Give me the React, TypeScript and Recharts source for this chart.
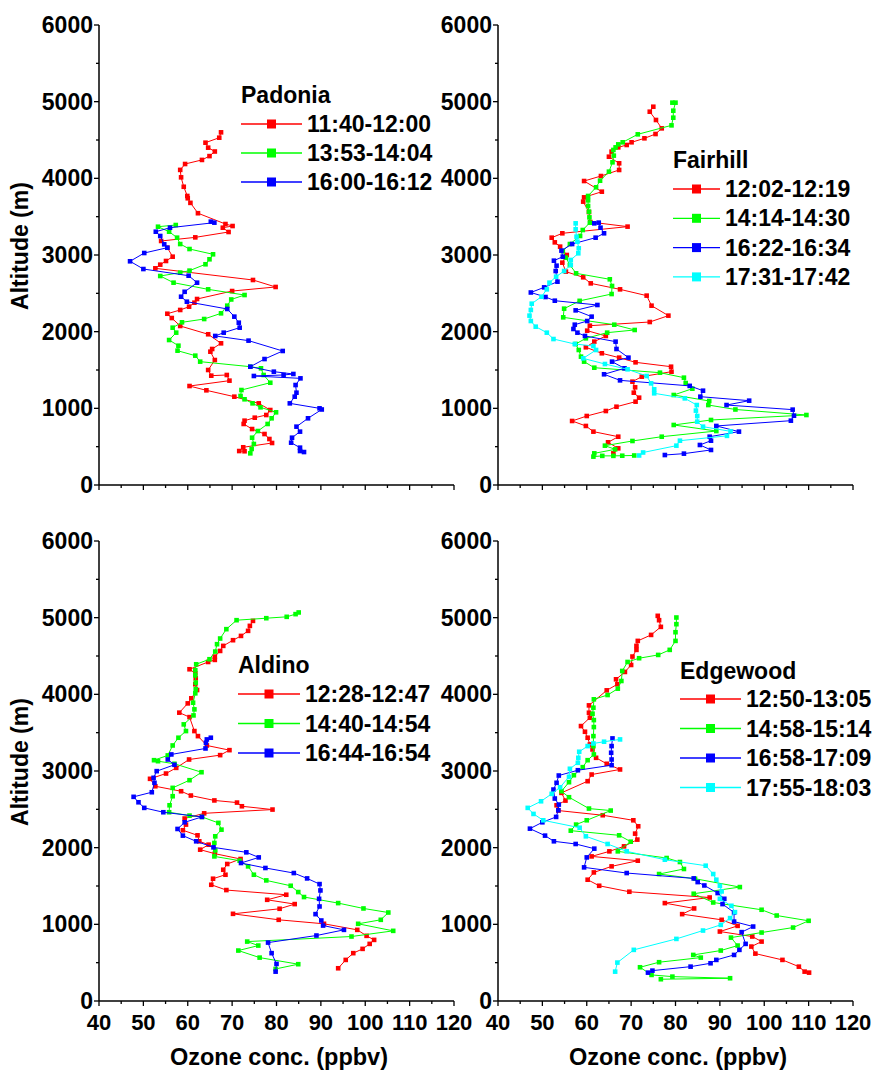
import React from 'react';
import { ScatterChart, Scatter, XAxis, YAxis, Legend } from 'recharts';

const FONT = '"Liberation Sans", Arial, Helvetica, sans-serif';

const xTicks = [40, 45, 50, 55, 60, 65, 70, 75, 80, 85, 90, 95, 100, 105, 110, 115, 120];
const yTicks = [0, 500, 1000, 1500, 2000, 2500, 3000, 3500, 4000, 4500, 5000, 5500, 6000];

const RED = '#ff0000';
const GREEN = '#00ff00';
const BLUE = '#0000ff';
const CYAN = '#00ffff';

// [ozone ppbv, altitude m]
const padRed = [[67.5,4600],[67.1,4530],[64.0,4465],[64.6,4400],[66.1,4350],[64.9,4290],[63.2,4240],[59.4,4187],[58.3,4110],[58.5,4013],[59.1,3890],[59.9,3770],[60.0,3740],[60.6,3680],[62.3,3545],[68.5,3404],[70.1,3378],[67.9,3356],[69.2,3300],[61.7,3230],[54.0,3183],[55.4,3095],[56.6,2978],[55.1,2922],[53.8,2874],[52.7,2826],[74.7,2674],[79.8,2583],[70.0,2530],[62.1,2426],[61.5,2378],[60.3,2326],[58.3,2283],[55.4,2234],[56.4,2178],[58.3,2074],[64.6,1966],[67.5,1848],[65.5,1774],[65.1,1739],[66.1,1630],[64.6,1500],[65.3,1426],[68.8,1435],[69.4,1361],[60.4,1291],[64.2,1235],[70.5,1152],[76.0,1065],[78.6,978],[77.7,913],[75.1,878],[72.8,839],[72.6,796],[74.5,730],[77.3,665],[78.4,600],[79.0,548],[72.5,492],[71.6,443],[72.8,440]];
const padGreen = [[57.3,3391],[53.3,3369],[55.8,3304],[57.6,3226],[58.3,3143],[60.4,3078],[65.7,3009],[64.9,2944],[64.0,2879],[60.4,2796],[58.3,2770],[53.8,2726],[56.8,2639],[64.6,2552],[72.8,2478],[69.8,2420],[68.9,2339],[67.5,2239],[63.7,2165],[58.7,2122],[56.6,2052],[57.4,1987],[55.8,1891],[57.9,1817],[57.7,1752],[61.7,1687],[62.8,1609],[74.1,1543],[76.5,1522],[77.1,1435],[78.6,1334],[72.1,1239],[71.9,1161],[72.8,1118],[74.6,1065],[76.4,1013],[79.9,948],[78.9,870],[78.0,796],[75.8,704],[74.5,617],[74.9,535],[74.4,470],[74.1,413]];
const padBlue = [[65.2,3435],[66.0,3422],[56.0,3356],[52.8,3304],[53.8,3248],[54.7,3139],[55.4,3095],[50.2,3026],[47.0,2918],[50.0,2817],[60.2,2730],[62.1,2639],[59.3,2520],[58.5,2456],[59.8,2391],[68.9,2296],[70.5,2196],[71.5,2117],[71.7,2052],[68.1,1987],[66.2,1944],[73.7,1883],[81.4,1748],[77.3,1643],[74.1,1543],[79.4,1478],[83.8,1448],[81.6,1435],[74.9,1422],[85.4,1391],[84.3,1304],[84.5,1204],[84.1,1152],[83.0,1065],[89.7,1000],[90.2,985],[87.1,870],[84.5,761],[85.3,696],[83.5,617],[83.3,552],[85.3,487],[85.3,443],[86.2,430]];

const fhRed = [[75.0,4934],[74.2,4869],[75.6,4761],[76.9,4652],[75.5,4578],[73.0,4522],[70.1,4470],[69.0,4435],[67.1,4404],[65.6,4348],[65.0,4282],[67.3,4196],[67.3,4109],[63.2,4030],[59.4,3965],[63.4,3826],[59.4,3752],[59.2,3696],[60.5,3560],[60.8,3430],[69.2,3370],[54.5,3283],[52.1,3226],[52.8,3165],[54.0,3109],[55.5,3000],[54.5,2900],[55.3,2783],[59.2,2709],[60.9,2630],[67.5,2552],[73.5,2470],[74.6,2339],[78.4,2209],[74.2,2126],[60.7,2078],[60.1,2013],[64.3,1944],[61.7,1870],[59.8,1796],[63.4,1718],[67.3,1661],[71.0,1600],[79.0,1543],[79.1,1478],[72.4,1413],[70.3,1348],[70.9,1274],[70.6,1204],[71.8,1139],[71.0,1087],[66.7,1021],[64.3,965],[60.0,900],[56.7,835],[59.8,770],[61.5,696],[67.1,630],[64.8,557],[67.1,478],[66.0,413]];
const fhGreen = [[79.3,4987],[80.0,4987],[79.5,4882],[79.5,4791],[79.1,4691],[71.5,4574],[68.1,4470],[67.1,4443],[66.5,4404],[66.0,4370],[66.1,4296],[65.8,4209],[65.0,4087],[63.0,3969],[62.1,3883],[60.3,3770],[60.3,3713],[60.3,3639],[60.5,3565],[60.6,3491],[60.7,3422],[59.1,3326],[58.5,3248],[56.2,3143],[54.6,3052],[55.3,2965],[56.2,2870],[57.6,2761],[65.2,2683],[65.7,2596],[65.6,2491],[58.4,2402],[54.9,2300],[54.7,2187],[66.2,2091],[70.8,2022],[64.6,1987],[59.8,1913],[57.5,1839],[58.2,1761],[58.7,1674],[59.4,1609],[61.7,1530],[76.5,1465],[81.9,1400],[82.3,1330],[83.8,1256],[79.6,1174],[87.6,1096],[87.4,1043],[93.5,985],[109.5,913],[88.0,848],[79.6,783],[89.2,704],[76.9,630],[70.3,574],[64.1,513],[66.4,465],[61.7,413],[61.5,370],[63.5,380],[66.0,380],[68.0,382],[70.7,385]];
const fhBlue = [[61.7,3413],[62.7,3422],[63.1,3356],[63.9,3283],[62.0,3226],[56.7,3143],[54.3,3057],[54.6,2978],[52.6,2926],[53.2,2861],[53.0,2791],[53.4,2652],[50.4,2578],[47.4,2511],[50.7,2452],[52.8,2404],[62.4,2348],[57.5,2278],[61.1,2196],[60.1,2139],[57.3,2091],[57.0,2035],[57.9,1987],[59.6,1944],[66.5,1870],[66.7,1774],[69.4,1661],[65.7,1609],[68.5,1522],[63.9,1444],[67.5,1365],[83.2,1293],[86.2,1230],[85.6,1152],[96.6,1100],[91.5,1043],[106.4,983],[106.7,904],[106.0,839],[89.2,770],[94.3,696],[87.7,630],[88.0,578],[85.5,522],[88.0,457],[81.9,409],[77.6,391]];
const fhCyan = [[57.5,3413],[57.5,3335],[57.7,3239],[57.9,3174],[58.2,3087],[58.1,3022],[56.4,2935],[56.4,2870],[54.9,2791],[53.1,2717],[51.6,2639],[51.0,2552],[49.8,2456],[47.6,2365],[47.4,2283],[47.1,2209],[47.4,2139],[48.5,2065],[51.0,1987],[52.5,1904],[57.3,1839],[61.5,1813],[62.1,1761],[59.2,1652],[64.1,1578],[69.2,1509],[73.5,1422],[74.5,1326],[75.2,1248],[75.2,1196],[82.1,1130],[84.8,1043],[84.6,970],[84.9,900],[84.9,826],[86.2,761],[92.4,700],[91.6,641],[81.0,578],[80.2,513],[72.7,424],[71.8,385]];

const alRed = [[74.7,4958],[74.0,4893],[73.6,4828],[72.0,4762],[70.2,4706],[68.0,4632],[67.3,4566],[66.1,4492],[66.1,4449],[64.6,4422],[60.4,4327],[61.7,4275],[61.8,4209],[61.7,4131],[62.1,4056],[60.8,3948],[60.0,3882],[58.1,3761],[60.4,3703],[61.5,3521],[62.3,3455],[64.3,3333],[69.4,3272],[67.3,3207],[60.3,3150],[57.4,3041],[55.1,2967],[51.5,2898],[52.7,2801],[58.5,2736],[60.7,2680],[66.0,2616],[71.1,2588],[72.2,2540],[79.1,2497],[63.7,2448],[59.3,2380],[59.6,2301],[58.9,2227],[62.2,2161],[62.6,2083],[64.7,2039],[62.8,1974],[66.1,1922],[71.9,1852],[68.9,1787],[68.0,1712],[68.5,1647],[65.7,1595],[65.3,1516],[68.7,1447],[82.2,1386],[77.9,1320],[84.1,1264],[80.7,1203],[70.2,1137],[80.5,1059],[90.7,1007],[98.2,928],[100.3,850],[102.0,797],[101.0,745],[99.4,680],[97.3,624],[95.6,536],[93.9,427]];
const alGreen = [[85.0,5068],[84.3,5046],[82.3,5011],[77.7,4993],[71.0,4967],[68.7,4850],[67.3,4728],[66.6,4654],[66.2,4558],[64.9,4458],[61.9,4392],[61.7,4314],[61.7,4248],[61.8,4153],[61.8,4066],[61.7,4013],[61.2,3891],[61.5,3804],[61.3,3725],[59.1,3608],[59.6,3521],[57.9,3434],[56.6,3333],[55.5,3203],[52.4,3141],[53.3,3128],[57.0,3094],[63.1,2984],[60.4,2880],[56.6,2780],[56.6,2671],[55.9,2553],[55.8,2462],[60.4,2418],[63.2,2401],[66.9,2323],[67.6,2235],[66.2,2148],[66.0,2061],[66.2,1965],[66.0,1886],[71.7,1830],[73.6,1756],[74.9,1647],[77.7,1573],[83.2,1503],[84.9,1421],[86.2,1356],[93.9,1277],[99.6,1207],[105.2,1154],[103.5,1059],[98.4,1007],[106.3,915],[96.9,841],[73.4,775],[75.9,723],[71.4,658],[76.2,566],[84.9,480],[79.8,418]];
const alBlue = [[65.2,3434],[64.3,3412],[64.1,3369],[64.0,3294],[56.3,3216],[55.5,3150],[57.0,3081],[53.0,2998],[52.3,2911],[52.5,2846],[51.9,2723],[47.8,2663],[48.9,2592],[50.2,2519],[54.5,2462],[63.2,2401],[59.3,2331],[57.7,2244],[58.9,2157],[61.9,2083],[65.8,2004],[73.2,1939],[76.0,1873],[72.0,1800],[77.5,1735],[83.9,1669],[86.9,1599],[89.7,1525],[89.9,1442],[89.6,1333],[89.7,1233],[88.8,1133],[90.1,1050],[90.5,984],[95.2,928],[89.0,854],[78.1,762],[78.9,624],[80.0,484],[79.8,383]];

const edRed = [[76.0,5024],[76.3,4967],[76.7,4880],[74.5,4775],[71.5,4697],[71.2,4632],[71.2,4580],[70.3,4493],[70.0,4383],[68.6,4292],[66.6,4196],[66.9,4131],[64.5,4052],[60.5,3856],[60.5,3760],[60.7,3695],[58.7,3586],[59.6,3512],[60.2,3434],[60.7,3346],[61.3,3281],[62.1,3172],[64.5,3094],[67.5,3020],[61.1,2954],[60.2,2867],[54.3,2715],[55.2,2614],[53.2,2553],[53.6,2484],[63.6,2423],[70.5,2357],[71.6,2279],[70.9,2183],[71.4,2105],[68.4,2017],[65.1,1952],[61.1,1886],[71.5,1830],[65.6,1756],[61.6,1677],[60.2,1582],[62.8,1503],[69.6,1425],[87.7,1350],[77.6,1277],[84.2,1207],[81.5,1133],[90.4,1059],[94.0,980],[90.0,906],[97.3,841],[99.4,775],[97.1,710],[98.0,618],[104.1,536],[107.8,448],[109.1,383],[110.1,370]];
const edGreen = [[80.2,5002],[80.2,4915],[80.0,4810],[80.0,4697],[78.7,4580],[76.1,4514],[71.8,4471],[69.2,4422],[68.0,4305],[67.8,4174],[67.0,4074],[64.7,3991],[61.6,3935],[61.5,3826],[61.3,3747],[61.6,3664],[61.6,3573],[61.5,3455],[61.5,3324],[61.6,3216],[60.2,3141],[59.1,3050],[57.1,2945],[56.0,2854],[54.3,2736],[56.0,2658],[60.5,2510],[65.4,2484],[60.0,2357],[57.6,2301],[56.4,2222],[67.3,2161],[69.9,2078],[67.0,1952],[78.0,1865],[81.0,1813],[81.9,1722],[76.3,1656],[84.4,1595],[94.5,1486],[84.1,1399],[88.5,1285],[99.4,1190],[102.8,1115],[110.0,1046],[106.5,958],[99.4,893],[92.5,827],[94.0,723],[90.2,658],[84.0,601],[85.7,566],[76.3,506],[72.0,440],[74.6,340],[79.3,318],[92.3,297],[76.7,284]];
const edBlue = [[65.8,3425],[65.6,3325],[65.5,3238],[65.6,3150],[65.6,3076],[58.0,3010],[53.7,2941],[53.2,2846],[52.5,2758],[52.8,2641],[53.7,2562],[53.6,2488],[53.1,2401],[50.0,2331],[47.2,2248],[50.6,2157],[52.6,2083],[57.5,2048],[61.7,1987],[60.0,1873],[59.4,1743],[69.0,1669],[84.1,1599],[85.0,1551],[86.5,1507],[89.5,1408],[91.0,1333],[90.6,1264],[93.2,1154],[93.2,1036],[97.5,971],[94.9,898],[95.8,745],[94.4,667],[93.2,601],[89.2,536],[87.9,492],[83.4,448],[74.8,396],[73.8,370]];
const edCyan = [[67.5,3412],[63.9,3382],[61.5,3359],[60.2,3325],[58.3,3251],[58.1,3172],[58.0,3107],[56.2,3029],[56.0,2924],[54.0,2788],[52.1,2702],[49.7,2605],[46.7,2519],[48.0,2440],[50.2,2357],[58.4,2260],[59.8,2148],[64.7,2048],[69.0,1952],[77.6,1843],[86.8,1765],[88.5,1656],[89.2,1582],[90.0,1503],[90.4,1429],[90.0,1333],[92.6,1242],[93.4,1159],[92.3,1081],[90.2,993],[86.2,919],[80.2,810],[70.6,667],[66.9,501],[66.4,383]];

const padLabels = ['11:40-12:00', '13:53-14:04', '16:00-16:12'];
const fhLabels = ['12:02-12:19', '14:14-14:30', '16:22-16:34', '17:31-17:42'];
const alLabels = ['12:28-12:47', '14:40-14:54', '16:44-16:54'];
const edLabels = ['12:50-13:05', '14:58-15:14', '16:58-17:09', '17:55-18:03'];

const toPts = (arr: number[][]) => arr.map(([x, y]) => ({ x, y }));

type Series = { data: number[][]; color: string; label: string };

const square = (color: string) => (p: any) => (
  <rect x={p.cx - 2.3} y={p.cy - 2.3} width={4.6} height={4.6} fill={color} />
);

const YTick = (props: any) => {
  const { x, y, payload } = props;
  const major = payload.value % 1000 === 0;
  return (
    <g>
      <line x1={x} x2={x - (major ? 5 : 3)} y1={y} y2={y} stroke="#000" strokeWidth={1.3} />
      {major && (
        <text x={x - 6} y={y} textAnchor="end" dominantBaseline="central" fontFamily={FONT} fontWeight="bold" fontSize={23} fill="#000">
          {payload.value}
        </text>
      )}
    </g>
  );
};

const makeXTick = (showLabels: boolean) => (props: any) => {
  const { x, y, payload } = props;
  const major = payload.value % 10 === 0;
  return (
    <g>
      <line x1={x} x2={x} y1={y} y2={y + (major ? 5 : 3)} stroke="#000" strokeWidth={1.3} />
      {showLabels && major && (
        <text x={x} y={y + 29} textAnchor="middle" fontFamily={FONT} fontWeight="bold" fontSize={22} fill="#000">
          {payload.value}
        </text>
      )}
    </g>
  );
};

type LegendSpec = { title: string; left: number; top: number; lineLen: number; gap: number; titleGap: number };

const LegendBox = ({ spec, series }: { spec: LegendSpec; series: Series[] }) => {
  const w = 200;
  const h = spec.titleGap + series.length * spec.gap + 10;
  return (
    <svg width={w} height={h} style={{ overflow: 'visible' }}>
      <text x={0} y={12} dominantBaseline="central" fontFamily={FONT} fontWeight="bold" fontSize={23} fill="#000">
        {spec.title}
      </text>
      {series.map((s, i) => {
        const cy = spec.titleGap + i * spec.gap;
        return (
          <g key={i}>
            <line x1={0} x2={spec.lineLen} y1={cy} y2={cy} stroke={s.color} strokeWidth={1.3} />
            <rect x={spec.lineLen / 2 - 4.5} y={cy - 4.5} width={9} height={9} fill={s.color} />
            <text x={spec.lineLen + 5} y={cy} dominantBaseline="central" fontFamily={FONT} fontWeight="bold" fontSize={23} fill="#000">
              {s.label}
            </text>
          </g>
        );
      })}
    </svg>
  );
};

type PanelProps = {
  left: number;
  top: number;
  height: number;
  yAxisWidth: number;
  xAxisHeight: number;
  showXLabels: boolean;
  showYTitle: boolean;
  series: Series[];
  legend: LegendSpec;
};

const Panel = ({ left, top, height, yAxisWidth, xAxisHeight, showXLabels, showYTitle, series, legend }: PanelProps) => {
  const width = 479;
  const plotTop = 25;
  const plotH = height - plotTop - xAxisHeight;
  return (
    <div style={{ position: 'absolute', left, top, width, height }}>
      <ScatterChart width={width} height={height} margin={{ top: plotTop, right: width - yAxisWidth - 355, bottom: 0, left: 0 }}>
        <XAxis
          type="number"
          dataKey="x"
          domain={[40, 120]}
          ticks={xTicks}
          interval={0}
          height={xAxisHeight}
          tick={makeXTick(showXLabels)}
          tickLine={false}
          tickSize={0}
          tickMargin={0}
          axisLine={{ stroke: '#000', strokeWidth: 1.5 }}
          label={
            showXLabels
              ? {
                  content: () => (
                    <text x={yAxisWidth + 180} y={plotTop + plotH + 56} textAnchor="middle" dominantBaseline="central" fontFamily={FONT} fontWeight="bold" fontSize={23.5} fill="#000">
                      Ozone conc. (ppbv)
                    </text>
                  ),
                }
              : undefined
          }
        />
        <YAxis
          type="number"
          dataKey="y"
          domain={[0, 6000]}
          ticks={yTicks}
          interval={0}
          width={yAxisWidth}
          tick={<YTick />}
          tickLine={false}
          tickSize={0}
          tickMargin={0}
          axisLine={{ stroke: '#000', strokeWidth: 1.5 }}
          label={
            showYTitle
              ? {
                  content: () => {
                    const cx = 20;
                    const cy = plotTop + plotH / 2 - 9;
                    return (
                      <text x={cx} y={cy} transform={`rotate(-90, ${cx}, ${cy})`} textAnchor="middle" dominantBaseline="central" fontFamily={FONT} fontWeight="bold" fontSize={23} fill="#000">
                        Altitude (m)
                      </text>
                    );
                  },
                }
              : undefined
          }
        />
        {series.map((s, i) => (
          <Scatter
            key={i}
            name={s.label}
            data={toPts(s.data)}
            fill={s.color}
            line={{ stroke: s.color, strokeWidth: 1 }}
            lineType="joint"
            shape={square(s.color)}
            isAnimationActive={false}
          />
        ))}
        <Legend
          layout="horizontal"
          verticalAlign="middle"
          align="center"
          wrapperStyle={{ position: 'absolute', left: legend.left, top: legend.top, width: 200, height: 140 }}
          content={() => <LegendBox spec={legend} series={series} />}
        />
      </ScatterChart>
    </div>
  );
};

const padSeries: Series[] = [
  { data: padRed, color: RED, label: padLabels[0] },
  { data: padGreen, color: GREEN, label: padLabels[1] },
  { data: padBlue, color: BLUE, label: padLabels[2] },
];
const fhSeries: Series[] = [
  { data: fhRed, color: RED, label: fhLabels[0] },
  { data: fhGreen, color: GREEN, label: fhLabels[1] },
  { data: fhBlue, color: BLUE, label: fhLabels[2] },
  { data: fhCyan, color: CYAN, label: fhLabels[3] },
];
const alSeries: Series[] = [
  { data: alRed, color: RED, label: alLabels[0] },
  { data: alGreen, color: GREEN, label: alLabels[1] },
  { data: alBlue, color: BLUE, label: alLabels[2] },
];
const edSeries: Series[] = [
  { data: edRed, color: RED, label: edLabels[0] },
  { data: edGreen, color: GREEN, label: edLabels[1] },
  { data: edBlue, color: BLUE, label: edLabels[2] },
  { data: edCyan, color: CYAN, label: edLabels[3] },
];

export default function App() {
  return (
    <div style={{ position: 'absolute', left: 0, top: 0, width: 879, height: 1074, background: '#fff', overflow: 'hidden' }}>
      <Panel left={0} top={0} height={500} yAxisWidth={99} xAxisHeight={15} showXLabels={false} showYTitle={true} series={padSeries}
        legend={{ title: 'Padonia', left: 241, top: 83, lineLen: 61, gap: 29, titleGap: 41 }} />
      <Panel left={400} top={0} height={500} yAxisWidth={98} xAxisHeight={15} showXLabels={false} showYTitle={false} series={fhSeries}
        legend={{ title: 'Fairhill', left: 273, top: 148, lineLen: 47, gap: 29.3, titleGap: 41 }} />
      <Panel left={0} top={516} height={558} yAxisWidth={99} xAxisHeight={73} showXLabels={true} showYTitle={true} series={alSeries}
        legend={{ title: 'Aldino', left: 238, top: 137, lineLen: 62, gap: 29.5, titleGap: 41 }} />
      <Panel left={400} top={516} height={558} yAxisWidth={98} xAxisHeight={73} showXLabels={true} showYTitle={false} series={edSeries}
        legend={{ title: 'Edgewood', left: 280, top: 143, lineLen: 61, gap: 29.5, titleGap: 40 }} />
    </div>
  );
}
